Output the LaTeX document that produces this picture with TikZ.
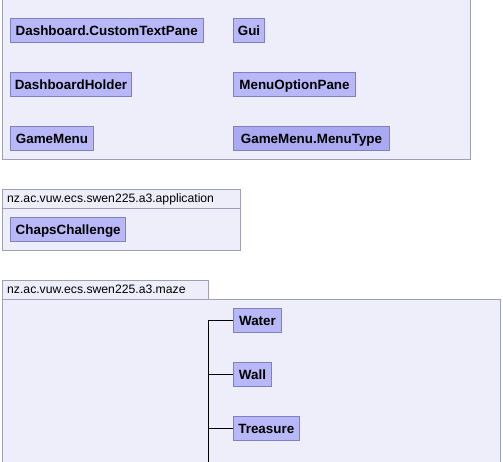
\documentclass[tikz,border=0pt]{standalone}
\usepackage{fontspec}
\setmainfont{Liberation Sans}
\definecolor{pkgbg}{RGB}{238,238,250}
\definecolor{pkgline}{RGB}{160,160,180}
\definecolor{clsfill}{RGB}{184,184,248}
\definecolor{clsfilldark}{RGB}{170,170,242}
\definecolor{clsline}{RGB}{128,128,192}
\tikzset{
  pkg/.style={draw=pkgline, fill=pkgbg, line width=1pt},
  cls/.style={draw=clsline, fill=clsfill, line width=1pt, minimum height=24pt, inner sep=0pt,
    text height=11.5pt, text depth=1pt,
    font=\fontsize{13.4}{14}\selectfont\bfseries},
  pkglabel/.style={anchor=base west, inner sep=0pt, font=\fontsize{12.2}{13}\selectfont},
  conn/.style={draw=black, line width=1pt}
}
\begin{document}
\begin{tikzpicture}[x=1pt,y=-1pt]
\useasboundingbox (0,0) rectangle (503,462);
\clip (0,0) rectangle (503,462);
\fill[white] (0,0) rectangle (503,462);
% top package
\draw[pkg] (2.5,-5) rectangle (470.5,159.5);
\node[cls, minimum width=193pt] (dctp) at (106.8,30.5) {Dashboard.CustomTextPane};
\node[cls, minimum width=31.4pt] (gui) at (249,30.5) {Gui};
\node[cls, minimum width=121.4pt] (dh) at (71,84.5) {DashboardHolder};
\node[cls, minimum width=122.4pt] (mop) at (294.5,84.5) {MenuOptionPane};
\node[cls, minimum width=83.4pt] (gm) at (52,138.5) {GameMenu};
\node[cls, fill=clsfilldark, minimum width=156.4pt] (gmt) at (311.5,138.5) {GameMenu.MenuType};
% application package
\draw[pkg] (2.5,189.5) rectangle (240.5,250.5);
\draw[pkgline, line width=1pt] (2.5,208.5) -- (240.5,208.5);
\node[pkglabel] (applbl) at (7,202.5) {nz.ac.vuw.ecs.swen225.a3.application};
\node[cls, minimum width=115pt] (cc) at (68.2,229.5) {ChapsChallenge};
% maze package
\draw[pkg] (2.5,299.5) rectangle (500.5,470);
\draw[pkg] (2.5,280.5) rectangle (208.5,299.5);
\node[pkglabel] (mazelbl) at (7,293.5) {nz.ac.vuw.ecs.swen225.a3.maze};
\node[cls, minimum width=48.4pt] (water) at (257.5,320.5) {Water};
\node[cls, minimum width=38.4pt] (wall) at (252.5,374.5) {Wall};
\node[cls, minimum width=66pt] (treasure) at (266.3,428.5) {Treasure};
\coordinate (trunkbot) at (208.5,470);
\coordinate (jw) at (trunkbot |- water.west);
\coordinate (jl) at (trunkbot |- wall.west);
\coordinate (jt) at (trunkbot |- treasure.west);
\draw[conn] (water.west) -- (jw) -- (trunkbot);
\draw[conn] (wall.west) -- (jl);
\draw[conn] (treasure.west) -- (jt);
\end{tikzpicture}
\end{document}
